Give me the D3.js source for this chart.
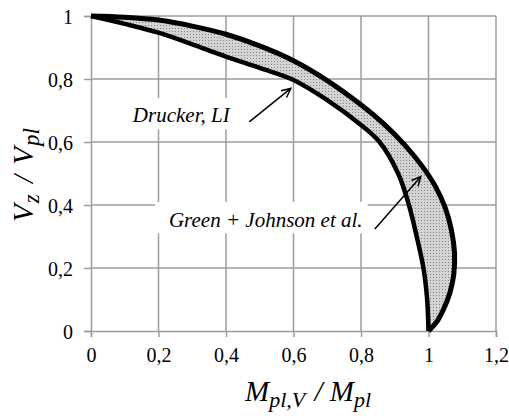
<!DOCTYPE html>
<html>
<head>
<meta charset="utf-8">
<script src="https://cdn.jsdelivr.net/npm/d3@7"></script>
<style>
  body { margin: 0; background: #fff; }
</style>
</head>
<body>
<svg id="chart" width="509" height="419"></svg>
<script>
// Axis ticks
const xTicks = [0, 0.2, 0.4, 0.6, 0.8, 1, 1.2];
const yTicks = [0, 0.2, 0.4, 0.6, 0.8, 1];

// Drucker, LI interaction curve (M_pl,V / M_pl, V_z / V_pl)
const druckerM = [0, 0.1, 0.2, 0.3, 0.4, 0.5, 0.6, 0.7, 0.8, 0.855, 0.91, 0.942, 0.965, 0.985, 0.996, 1.0];
const druckerV = [1, 0.975, 0.947, 0.91, 0.871, 0.835, 0.797, 0.733, 0.654, 0.6, 0.5, 0.4, 0.3, 0.2, 0.1, 0];

// Green + Johnson et al. interaction curve
const greenM = [0, 0.1, 0.2, 0.3, 0.4, 0.5, 0.6, 0.7, 0.8, 0.87, 0.93, 0.98, 1.02, 1.05, 1.068, 1.077, 1.075, 1.063, 1.045, 1.025, 1.0];
const greenV = [1, 0.996, 0.987, 0.968, 0.942, 0.905, 0.858, 0.795, 0.718, 0.655, 0.59, 0.525, 0.46, 0.39, 0.32, 0.25, 0.18, 0.12, 0.07, 0.03, 0];

// Annotation labels: text, text anchor point, backing box, arrow tail, arrow head (data units)
const labels = [
  { text: "Drucker, LI", x: 0.124, y: 0.663, box: [0.11, 0.74, 0.44, 0.64], tail: [0.469, 0.664], head: [0.592, 0.770] },
  { text: "Green + Johnson et al.", x: 0.231, y: 0.330, box: [0.19, 0.41, 0.82, 0.31], tail: [0.841, 0.324], head: [0.977, 0.490] }
];

const svg = d3.select("#chart");
const margin = { left: 91, top: 16 };
const W = 405, H = 315;

const x = d3.scaleLinear().domain([0, 1.2]).range([margin.left, margin.left + W]);
const y = d3.scaleLinear().domain([0, 1]).range([margin.top + H, margin.top]);
const fmt = d => String(+d.toFixed(1)).replace(".", ",");
const gridColor = "#9c9c9c";
const serif = '"Times New Roman"';

// Stipple fill
const defs = svg.append("defs");
const pat = defs.append("pattern").attr("id", "stipple")
  .attr("width", 3).attr("height", 3).attr("patternUnits", "userSpaceOnUse");
pat.append("rect").attr("width", 3).attr("height", 3).attr("fill", "#d4d4d4");
pat.append("rect").attr("x", 1).attr("y", 1).attr("width", 1).attr("height", 1).attr("fill", "#858585");

// Grid
svg.append("g").selectAll("line").data(xTicks.slice(1)).join("line")
  .attr("x1", d => x(d)).attr("x2", d => x(d))
  .attr("y1", y(0)).attr("y2", y(1))
  .attr("stroke", gridColor).attr("stroke-width", 1.5);
svg.append("g").selectAll("line").data(yTicks.slice(1)).join("line")
  .attr("x1", x(0)).attr("x2", x(1.2))
  .attr("y1", d => y(d)).attr("y2", d => y(d))
  .attr("stroke", gridColor).attr("stroke-width", 1.5);

// Axes
const xAxis = d3.axisBottom(x).tickValues(xTicks).tickFormat(fmt).tickSize(6).tickPadding(11);
const yAxis = d3.axisLeft(y).tickValues(yTicks).tickFormat(fmt).tickSize(7).tickPadding(11);
const gx = svg.append("g").attr("transform", `translate(0,${y(0)})`).call(xAxis);
const gy = svg.append("g").attr("transform", `translate(${x(0)},0)`).call(yAxis);
[gx, gy].forEach(g => {
  g.attr("font-family", null).attr("font-size", null);
  g.select(".domain").attr("stroke", gridColor).attr("stroke-width", 1.5);
  g.selectAll(".tick line").attr("stroke", gridColor).attr("stroke-width", 1.5);
  g.selectAll(".tick text").style("font-family", serif).style("font-size", "20px").attr("fill", "#000");
});
gy.selectAll(".tick text").attr("dy", "0.35em");

// Band between the two curves
const druckerPts = druckerM.map((m, i) => [m, druckerV[i]]);
const greenPts = greenM.map((m, i) => [m, greenV[i]]);
const line = d3.line().x(d => x(d[0])).y(d => y(d[1])).curve(d3.curveCatmullRom.alpha(0.5));

const bandPath = line(greenPts) + line(druckerPts.slice().reverse()).replace(/^M/, "L") + "Z";
svg.append("path").attr("d", bandPath).attr("fill", "url(#stipple)").attr("stroke", "none");

svg.append("path").attr("d", line(druckerPts)).attr("fill", "none")
  .attr("stroke", "#000").attr("stroke-width", 4.5).attr("stroke-linejoin", "round");
svg.append("path").attr("d", line(greenPts)).attr("fill", "none")
  .attr("stroke", "#000").attr("stroke-width", 5).attr("stroke-linejoin", "round");

// Labels with white backing and open arrows
labels.forEach(l => {
  svg.append("rect")
    .attr("x", x(l.box[0])).attr("y", y(l.box[1]))
    .attr("width", x(l.box[2]) - x(l.box[0])).attr("height", y(l.box[3]) - y(l.box[1]))
    .attr("fill", "#fff");
  svg.append("text").attr("x", x(l.x)).attr("y", y(l.y))
    .style("font-family", serif).style("font-size", "21px").style("font-style", "italic").text(l.text);
  const x1 = x(l.tail[0]), y1 = y(l.tail[1]), x2 = x(l.head[0]), y2 = y(l.head[1]);
  svg.append("line").attr("x1", x1).attr("y1", y1).attr("x2", x2).attr("y2", y2)
    .attr("stroke", "#000").attr("stroke-width", 1.5);
  const ang = Math.atan2(y2 - y1, x2 - x1), len = 10, spread = 0.45;
  const p = [ang + Math.PI - spread, ang + Math.PI + spread]
    .map(a => [x2 + len * Math.cos(a), y2 + len * Math.sin(a)]);
  svg.append("path").attr("d", `M${p[0]}L${x2},${y2}L${p[1]}`)
    .attr("fill", "none").attr("stroke", "#000").attr("stroke-width", 1.5);
});

// Axis titles
const xt = svg.append("text").attr("x", 308).attr("y", 401).attr("text-anchor", "middle")
  .style("font-family", serif).style("font-style", "italic").style("font-size", "29px");
xt.append("tspan").text("M");
xt.append("tspan").attr("dy", 6).style("font-size", "22px").text("pl,V");
xt.append("tspan").attr("dy", -6).attr("dx", 2).text(" / M");
xt.append("tspan").attr("dy", 6).style("font-size", "22px").text("pl");

const yt = svg.append("text").attr("transform", "translate(33,175) rotate(-90)").attr("text-anchor", "middle")
  .style("font-family", serif).style("font-style", "italic").style("font-size", "29px");
yt.append("tspan").text("V");
yt.append("tspan").attr("dy", 6).attr("dx", 1).style("font-size", "23px").text("z");
yt.append("tspan").attr("dy", -6).attr("dx", 4).text(" / ");
yt.append("tspan").attr("dx", 3).text("V");
yt.append("tspan").attr("dy", 6).attr("dx", 1).style("font-size", "23px").text("pl");
</script>
</body>
</html>
